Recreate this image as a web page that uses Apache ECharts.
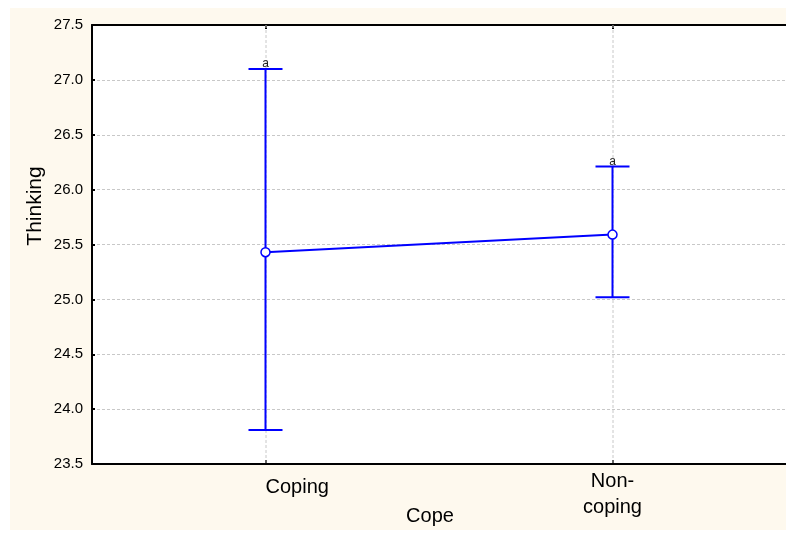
<!DOCTYPE html>
<html>
<head>
<meta charset="utf-8">
<script src="https://cdn.jsdelivr.net/npm/echarts@6/dist/echarts.min.js"></script>
<style>
  html, body { margin: 0; padding: 0; background: #ffffff; }
  #chart { width: 786px; height: 533px; }
</style>
</head>
<body>
<div id="chart"></div>
<script>
// Group means of "Thinking" with their interval bounds
const categories = ['Coping', 'Non-\ncoping'];
const means = [25.43, 25.59];
const lowerBounds = [23.81, 25.02];
const upperBounds = [27.10, 26.21];
const groupLetters = ['a', 'a'];
const yTicks = [23.5, 24.0, 24.5, 25.0, 25.5, 26.0, 26.5, 27.0, 27.5];

const Y_MIN = 23.5, Y_MAX = 27.5;
const BLUE = '#0000ff';
const FONT = '"Liberation Sans", Arial, sans-serif';
const GRID_LINE = { color: '#c8c8c8', type: [3, 2], width: 1 };

const errorData = categories.map((c, i) => [i, lowerBounds[i], upperBounds[i], groupLetters[i]]);

const chart = echarts.init(document.getElementById('chart'), null, { renderer: 'canvas' });

chart.setOption({
  backgroundColor: '#ffffff',
  animation: false,
  graphic: [
    {
      type: 'rect', z: -100, silent: true,
      shape: { x: 10, y: 8, width: 776, height: 522 },
      style: { fill: '#fef9ee' }
    },
    {
      type: 'text', x: 35, y: 206, rotation: Math.PI / 2, z: 10,
      style: { text: 'Thinking', fontSize: 21, fontFamily: FONT, fill: '#000', align: 'center', verticalAlign: 'middle' }
    }
  ],
  grid: {
    left: 92, right: 0, top: 25, bottom: 69,
    outerBoundsMode: 'none',
    containLabel: false,
    show: true, backgroundColor: '#ffffff', borderWidth: 0
  },
  xAxis: [
    {
      type: 'category',
      data: [
        { value: categories[0], textStyle: { align: 'left', padding: [6, 0, 0, 0] } },
        { value: categories[1], textStyle: { align: 'center' } }
      ],
      boundaryGap: true,
      axisLine: { lineStyle: { color: '#000', width: 2 } },
      axisTick: { show: true, inside: true, alignWithLabel: true, length: 4, lineStyle: { color: '#000', width: 2 } },
      axisLabel: { color: '#000', fontSize: 20, fontFamily: FONT, margin: 4, lineHeight: 26, interval: 0 },
      splitLine: { show: false },
      name: 'Cope',
      nameLocation: 'middle',
      nameGap: 42,
      nameMoveOverlap: false,
      nameTextStyle: { color: '#000', fontSize: 20, fontFamily: FONT, padding: [0, 18, 0, 0] }
    },
    {
      type: 'category',
      position: 'top',
      data: categories,
      boundaryGap: true,
      axisLine: { lineStyle: { color: '#000', width: 2 } },
      axisTick: { show: true, inside: true, alignWithLabel: true, length: 4, lineStyle: { color: '#000', width: 2 } },
      axisLabel: { show: false },
      splitLine: { show: false }
    }
  ],
  yAxis: {
    type: 'value',
    min: Y_MIN, max: Y_MAX, interval: 0.5,
    axisLine: { show: true, lineStyle: { color: '#000', width: 2 } },
    axisTick: { show: true, inside: true, length: 3, lineStyle: { color: '#000', width: 2 } },
    axisLabel: {
      color: '#000', fontSize: 15, fontFamily: FONT, margin: 9,
      formatter: v => yTicks.includes(Math.round(v * 10) / 10) ? v.toFixed(1) : ''
    },
    splitLine: { show: true, lineStyle: GRID_LINE }
  },
  series: [
    {
      type: 'custom',
      z: 3,
      data: errorData,
      encode: { x: 0, y: [1, 2] },
      renderItem: function (params, api) {
        const x = api.value(0);
        const lo = api.coord([x, api.value(1)]);
        const hi = api.coord([x, api.value(2)]);
        const top = api.coord([x, Y_MAX]);
        const bottom = api.coord([x, Y_MIN]);
        const half = 17;
        const st = { stroke: BLUE, lineWidth: 2 };
        return {
          type: 'group',
          children: [
            // dotted guide through the category
            {
              type: 'line', z2: 0,
              shape: { x1: top[0] + 0.5, y1: top[1], x2: bottom[0] + 0.5, y2: bottom[1] },
              style: { stroke: GRID_LINE.color, lineWidth: 1, lineDash: GRID_LINE.type }
            },
            { type: 'line', z2: 1, shape: { x1: lo[0], y1: lo[1], x2: hi[0], y2: hi[1] }, style: st },
            { type: 'line', z2: 1, shape: { x1: lo[0] - half, y1: lo[1], x2: lo[0] + half, y2: lo[1] }, style: st },
            { type: 'line', z2: 1, shape: { x1: hi[0] - half, y1: hi[1], x2: hi[0] + half, y2: hi[1] }, style: st },
            {
              type: 'text', z2: 2, x: hi[0], y: hi[1] + 1,
              style: { text: api.value(3), fontSize: 12, fontFamily: FONT, fill: '#222', align: 'center', verticalAlign: 'bottom' }
            }
          ]
        };
      }
    },
    {
      type: 'line',
      z: 4,
      data: means,
      symbol: 'circle',
      symbolSize: 9,
      lineStyle: { color: BLUE, width: 2 },
      itemStyle: { color: '#ffffff', borderColor: BLUE, borderWidth: 1.5 }
    }
  ]
});
</script>
</body>
</html>
